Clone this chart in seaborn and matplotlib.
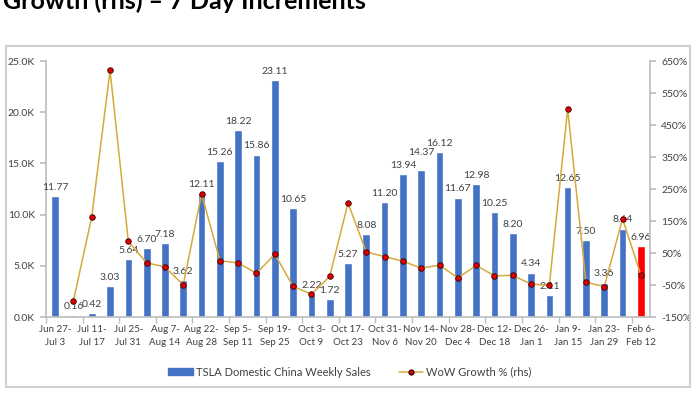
import numpy as np
import pandas as pd
import matplotlib
matplotlib.use("Agg")
import matplotlib.pyplot as plt
import seaborn as sns
from matplotlib.patches import Rectangle, Patch
from matplotlib.lines import Line2D

# weekly deliveries, thousands of units
weekly_sales_k = [11.77, 0.16, 0.42, 3.03, 5.64, 6.70, 7.18, 3.62, 12.11, 15.26,
                  18.22, 15.86, 23.11, 10.65, 2.22, 1.72, 5.27, 8.08, 11.20, 13.94,
                  14.37, 16.12, 11.67, 12.98, 10.25, 8.20, 4.34, 2.11, 12.65, 7.50,
                  3.36, 8.64, 6.96]

# week-over-week growth %, starts at the second week
wow_growth_pct = [-99, 163, 621, 86, 19, 7, -50, 235, 26, 19, -13, 46, -54, -79,
                  -23, 206, 53, 39, 24, 3, 12, -28, 11, -21, -20, -47, -51, 500,
                  -41, -55, 157, -19]

tick_labels = ["Jun 27-\nJul 3", "Jul 11-\nJul 17", "Jul 25-\nJul 31", "Aug 7-\nAug 14",
               "Aug 22-\nAug 28", "Sep 5-\nSep 11", "Sep 19-\nSep 25", "Oct 3-\nOct 9",
               "Oct 17-\nOct 23", "Oct 31-\nNov 6", "Nov 14-\nNov 20", "Nov 28-\nDec 4",
               "Dec 12-\nDec 18", "Dec 26-\nJan 1", "Jan 9-\nJan 15", "Jan 23-\nJan 29",
               "Feb 6-\nFeb 12"]

BLUE = "#4472C4"
RED = "#FF0000"
GOLD = "#D6AA3C"
GREY_TXT = "#404040"
AXIS_GREY = "#BFBFBF"

sns.set_theme(style="white")
plt.rcParams["font.family"] = ["Lato", "DejaVu Sans"]

n = len(weekly_sales_k)
week_ids = [str(i) for i in range(n)]
df = pd.DataFrame({"week": week_ids, "sales": weekly_sales_k})
palette = {w: BLUE for w in week_ids}
palette[week_ids[-1]] = RED

fig = plt.figure(figsize=(7, 3.94), dpi=100)
ax = fig.add_axes([0.0657, 0.1954, 0.8629, 0.6497])

sns.barplot(data=df, x="week", y="sales", hue="week", palette=palette,
            legend=False, width=0.42, saturation=1, ax=ax)
for i, cont in enumerate(ax.containers):
    # 14.37 sits a bit higher in the original so it clears 13.94
    pad = 9 if i == 20 else 3
    ax.bar_label(cont, fmt="%.2f", padding=pad, fontsize=7.5, color=GREY_TXT)

ax2 = ax.twinx()
growth_df = pd.DataFrame({"x": np.arange(1, n), "g": wow_growth_pct})
sns.lineplot(data=growth_df, x="x", y="g", ax=ax2, color=GOLD, lw=1.1,
             marker="o", markersize=4, markerfacecolor="#E00000",
             markeredgecolor="#3A0000", markeredgewidth=0.6)

ax.set_xlim(-0.5, n - 0.5)
ax.set_ylim(0, 25)
ax.set_yticks(np.arange(0, 26, 5))
ax.yaxis.set_major_formatter(matplotlib.ticker.FuncFormatter(lambda v, p: f"{v:.1f}K"))
ax.set_xticks(np.arange(0, n, 2))
ax.set_xticklabels(tick_labels, fontsize=7, color=GREY_TXT, linespacing=1.5)
ax.set_xticks(np.arange(-0.5, n, 2), minor=True)
ax.tick_params(axis="x", which="major", length=0, pad=6)
ax.tick_params(axis="x", which="minor", length=4, color=AXIS_GREY, direction="out", bottom=True)
ax.tick_params(axis="y", length=4, color=AXIS_GREY, direction="out", left=True,
               labelsize=7.5, labelcolor=GREY_TXT, pad=4)
ax.set_xlabel("")
ax.set_ylabel("")

ax2.set_ylim(-150, 650)
ax2.set_yticks(np.arange(-150, 651, 100))
ax2.yaxis.set_major_formatter(matplotlib.ticker.FuncFormatter(lambda v, p: f"{v:.0f}%"))
ax2.tick_params(axis="y", length=4, color=AXIS_GREY, direction="out", right=True,
                labelsize=7.5, labelcolor=GREY_TXT, pad=4)
ax2.set_ylabel("")
ax2.set_xlabel("")

for a in (ax, ax2):
    for s in a.spines.values():
        s.set_visible(False)
        s.set_color(AXIS_GREY)
ax.spines["left"].set_visible(True)
ax.spines["bottom"].set_visible(True)
ax2.spines["right"].set_visible(True)

handles = [Patch(facecolor=BLUE, edgecolor=BLUE),
           Line2D([], [], color=GOLD, lw=1.1, marker="o", markersize=3.5,
                  markerfacecolor="#E00000", markeredgecolor="#3A0000")]
fig.legend(handles, ["TSLA Domestic China Weekly Sales", "WoW Growth % (rhs)"],
           loc="center", bbox_to_anchor=(0.5, 1 - 372 / 394), ncol=2, frameon=False,
           fontsize=8, handlelength=2.2, handleheight=0.5, columnspacing=2.5,
           handletextpad=0.3, labelcolor=GREY_TXT)

fig.patches.append(Rectangle((0.0086, 0.0178), 0.977, 0.8654, transform=fig.transFigure,
                             fill=False, edgecolor="#D0D0D0", lw=1.5))

fig.text(0.004, 1 - 9 / 394, "Growth (rhs) \u2013 7 Day Increments", fontsize=18,
         fontweight="bold", va="baseline", ha="left", color="black")

fig.savefig("out.png", dpi=100)
plt.close(fig)
